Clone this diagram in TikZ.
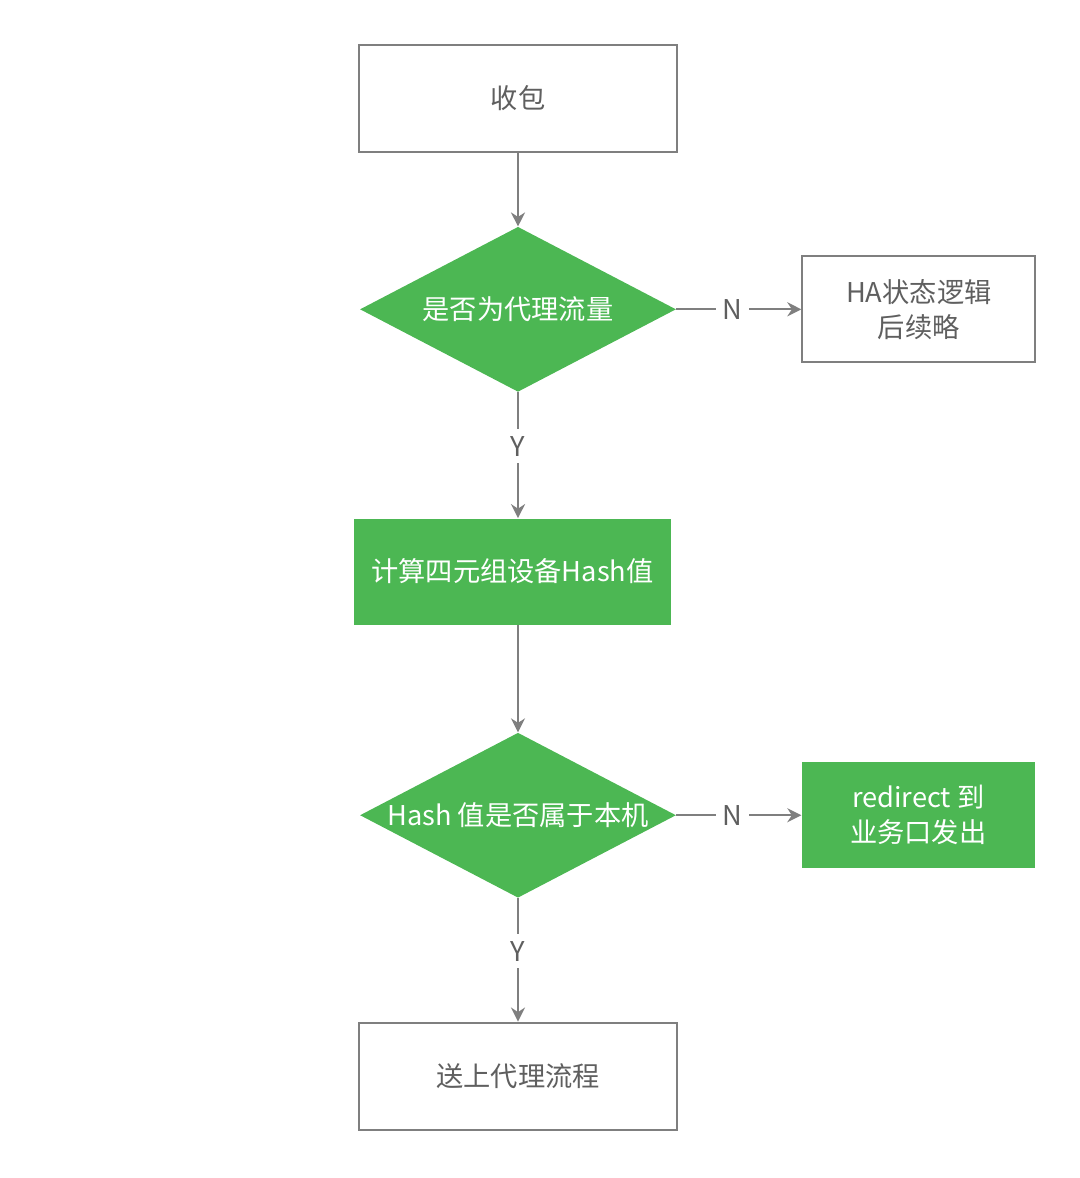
\documentclass[tikz,border=0pt]{standalone}
\usepackage{fontspec}
\setmainfont{Noto Sans CJK SC}
\usepackage{xcolor}
\usetikzlibrary{shapes.geometric, arrows.meta, positioning}

\definecolor{flowgreen}{HTML}{4CB753}
\definecolor{linegray}{HTML}{7F7F7F}
\definecolor{textgray}{HTML}{5F5F5F}

\begin{document}
\begin{tikzpicture}[
    font=\fontsize{15.5}{20}\selectfont,
    plain/.style={rectangle, draw=linegray, line width=1.1pt, fill=white, text=textgray, minimum width=6.36cm, minimum height=2.14cm, align=center},
    sidebox/.style={rectangle, draw=linegray, line width=1.1pt, fill=white, text=textgray, minimum width=4.66cm, minimum height=2.12cm, align=center},
    greenbox/.style={rectangle, fill=flowgreen, text=white, minimum width=6.34cm, minimum height=2.12cm, align=center},
    greenside/.style={rectangle, fill=flowgreen, text=white, minimum width=4.66cm, minimum height=2.12cm, align=center},
    decision/.style={diamond, fill=flowgreen, text=white, aspect=1.915, inner sep=0pt, minimum width=6.32cm, minimum height=3.3cm, align=center},
    arrow/.style={draw=linegray, line width=1.1pt, -{Stealth[length=8pt, width=8pt]}},
    lbl/.style={fill=white, text=textgray, inner sep=4pt}
]
    \useasboundingbox (0,0) rectangle (21.6,-23.56);

    % Main column
    \node [plain] (recv) at (10.36,-1.97) {收包};
    \node [decision, below=1.47cm of recv] (isproxy) {是否为代理流量};
    \node [greenbox, below=2.52cm of isproxy, xshift=-0.11cm] (calchash) {计算四元组设备Hash值};
    \node [decision, below=2.15cm of calchash, xshift=0.11cm] (islocal) {Hash 值是否属于本机};
    \node [plain, below=2.47cm of islocal] (toproxy) {送上代理流程};

    % Side branches
    \node [sidebox, right=2.5cm of isproxy] (hastate) {HA状态逻辑\\后续略};
    \node [greenside, right=2.5cm of islocal] (redirect) {redirect 到\\业务口发出};

    % Arrows
    \draw [arrow] (recv) -- (isproxy);
    \draw [arrow] (isproxy) -- node [lbl, pos=0.45] {N} (hastate);
    \draw [arrow] (isproxy.south) -- node [lbl, pos=0.43] {Y} (isproxy.south |- calchash.north);
    \draw [arrow] (calchash.south -| islocal.north) -- (islocal.north);
    \draw [arrow] (islocal) -- node [lbl, pos=0.45] {N} (redirect);
    \draw [arrow] (islocal) -- node [lbl, pos=0.43] {Y} (toproxy);

\end{tikzpicture}
\end{document}
